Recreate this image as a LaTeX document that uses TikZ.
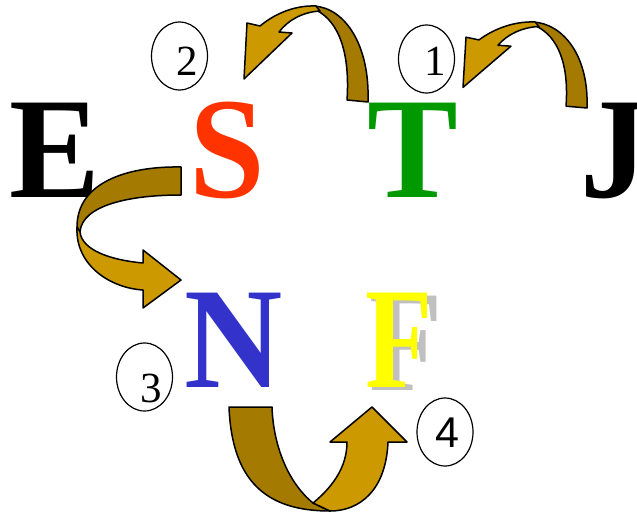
\documentclass[tikz,border=0pt]{standalone}
\usepackage{fontspec}
\setmainfont{Liberation Serif}
\newfontfamily\digitsans{Liberation Sans}
\usetikzlibrary{shapes.geometric}
\definecolor{sred}{HTML}{FF3300}
\definecolor{tgreen}{HTML}{009900}
\definecolor{nblue}{HTML}{3333CC}
\definecolor{fyellow}{HTML}{FFFF00}
\definecolor{fgrey}{HTML}{C0C0C0}
\definecolor{arrowlight}{HTML}{CC9900}
\definecolor{arrowdark}{HTML}{A47A00}
\newcommand\vstretch[1]{\scalebox{1}[1.06]{#1}}
\newcommand\toparrowshape{%
  \draw[ribbondark] (314,6) .. controls (345,8) and (370,45) .. (368,102) -- (347,100) .. controls (350,55) and (340,22) .. (316,10) -- cycle;
  \draw[ribbonlight] (279,32) -- (292,33) -- (244,79) -- (247,23) -- (260,26) .. controls (272,16) and (292,5) .. (316,6) -- (320,11) .. controls (303,12) and (288,20) .. (279,32) -- cycle;
}
\begin{document}
\begin{tikzpicture}[x=1pt,y=-1pt,
  letter/.style={inner sep=0pt, anchor=base, font=\fontsize{136}{136}\selectfont\bfseries},
  digit/.style={inner sep=0pt, anchor=base, font=\fontsize{43}{43}\selectfont},
  badge/.style={draw=black, line width=1.2pt, ellipse, inner sep=0pt, minimum width=56pt, minimum height=68pt},
  ribbondark/.style={fill=arrowdark, draw=black, line width=1.5pt, line join=round},
  ribbonlight/.style={fill=arrowlight, draw=black, line width=1.5pt, line join=round}]
\useasboundingbox[fill=white] (0,0) rectangle (637,514);

% letters
\node[letter] (E) at (55,197) {\vstretch{E}};
\node[letter, text=sred] (S) at (227,197) {\vstretch{S}};
\node[letter, text=tgreen] (T) at (412.5,197) {\vstretch{T}};
\node[letter] (J) at (614,197) {\vstretch{J}};
\node[letter, text=nblue] (N) at (234,387) {\vstretch{N}};
\node[letter, text=fgrey] (Fs) at (406,390) {\scalebox{0.88}[1.06]{F}};
\node[letter, text=fyellow] (F) at (399,387) {\scalebox{0.81}[1.06]{F}};

% numbered badges
\node[badge] (b1) at (426.5,59) {};
\node[digit] (d1) at (435,75) {1};
\node[badge] (b2) at (179.5,56) {};
\node[digit] (d2) at (187,75) {2};
\node[badge] (b3) at (144.5,377) {};
\node[digit] (d3) at (151,402) {3};
\node[badge] (b4) at (445,432) {};
\node[digit, font=\fontsize{43}{43}\selectfont\digitsans] (d4) at (447.5,447) {4};

% arrow 2 (T to S)
\toparrowshape
% arrow 1 (J to T)
\begin{scope}[shift={(219,16.6)}, yscale=0.896]
\toparrowshape
\end{scope}
% arrow 3 (S to N)
\draw[ribbondark] (181,167) .. controls (128,166) and (77,182) .. (77,227) -- (80,232) .. controls (82,205) and (130,195) .. (181,195) -- cycle;
\draw[ribbonlight] (77,227) .. controls (75,265) and (110,288) .. (143,290) -- (143,308) -- (181,280) -- (143,250) -- (143,263) .. controls (110,260) and (82,250) .. (80,232) -- cycle;
% arrow 4 (N to F)
\draw[ribbondark] (229,407) -- (272,407) .. controls (273,440) and (285,480) .. (313,503) -- (330,511) .. controls (265,511) and (232,480) .. (229,407) -- cycle;
\draw[ribbonlight] (313,503) .. controls (335,485) and (347,465) .. (347,442) -- (330,442) -- (372,407) -- (407,442) -- (388,442) .. controls (386,490) and (360,511) .. (330,511) -- cycle;
\end{tikzpicture}
\end{document}
